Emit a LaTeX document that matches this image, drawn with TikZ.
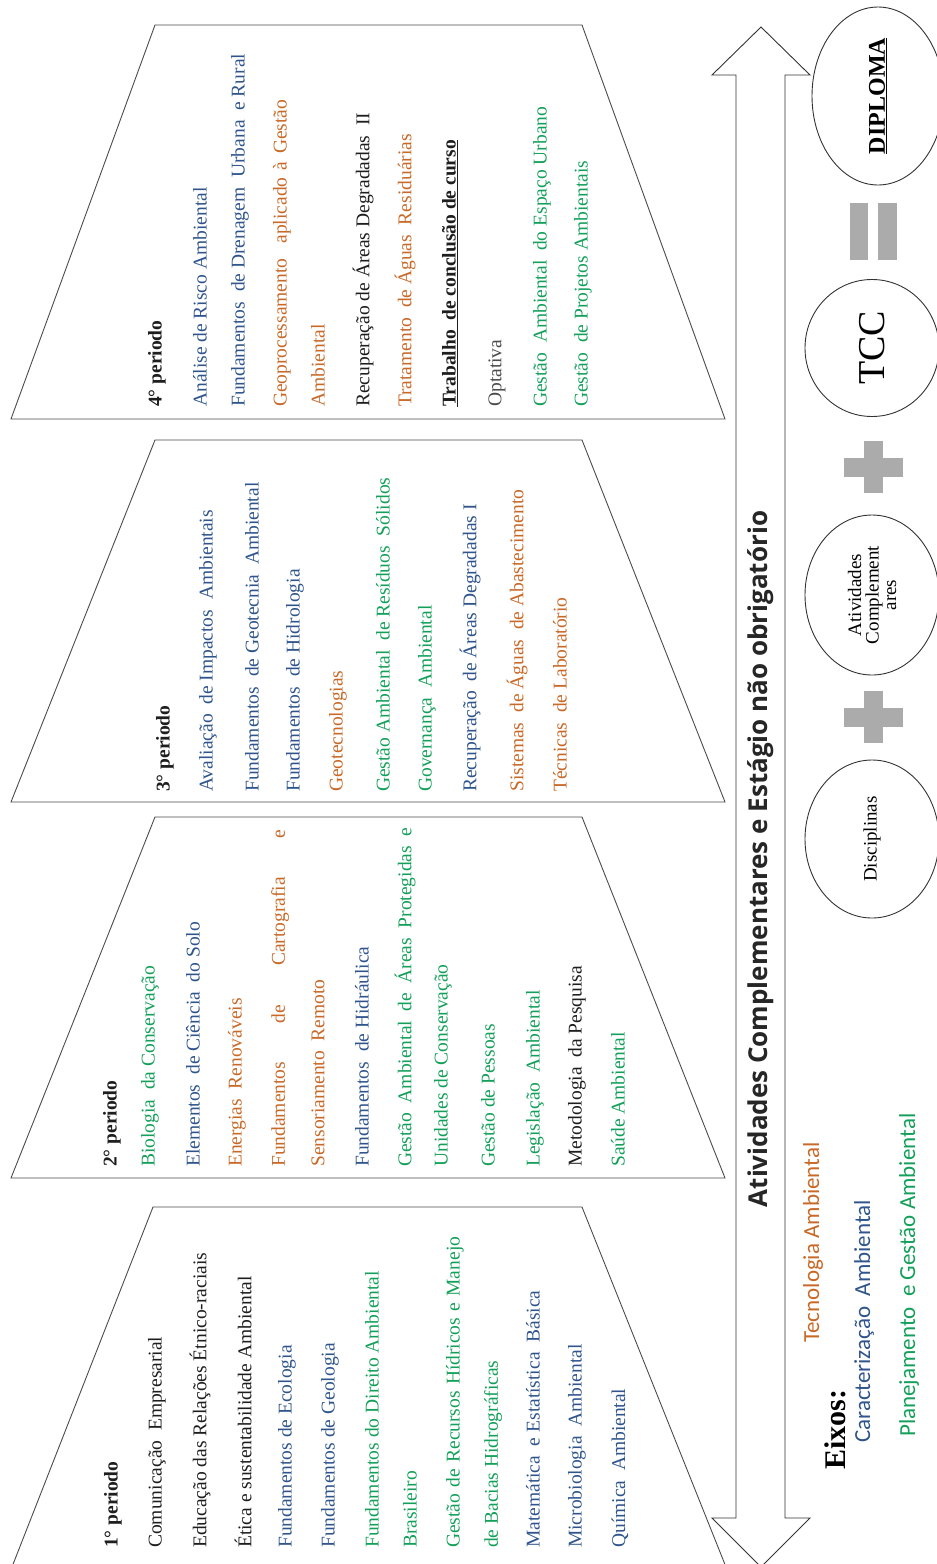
\documentclass[tikz,border=0pt]{standalone}
\usepackage{fontspec}
\setmainfont{Liberation Serif}
\newfontfamily\titlefont{Open Sans}
\newfontfamily\legfont{Carlito}
\usetikzlibrary{shapes.geometric}
\definecolor{cgreen}{RGB}{20,160,90}
\definecolor{cblue}{RGB}{47,85,140}
\definecolor{corange}{RGB}{200,105,40}
\definecolor{cdark}{RGB}{30,30,30}
\begin{document}
\begin{tikzpicture}[x=1pt,y=-1pt,
  tx/.style={rotate=90,anchor=west,inner sep=0pt,text=cdark,font=\fontsize{19.5}{22}\selectfont},
  hdr/.style={tx,font=\fontsize{19.5}{22}\selectfont\bfseries},
  frame/.style={draw=black!70,line width=0.9pt},
  circ/.style={draw=black!80,line width=0.9pt,ellipse,rotate=90,inner sep=0pt,align=center},
  gbar/.style={fill=black!33,draw=none},
  leg/.style={tx,font=\legfont\fontsize{23}{25}\selectfont}]
\useasboundingbox (0,0) rectangle (937,1564);
\fill[white] (0,0) rectangle (937,1564);

% period frames
\draw[frame] (10,1572) -- (153,1207) -- (582,1207) -- (728,1572);
\draw[frame] (11,1178) -- (155,817) -- (582,817) -- (725,1178) -- cycle;
\draw[frame] (11,802) -- (155,440) -- (582,440) -- (725,802) -- cycle;
\draw[frame] (11,419) -- (155,25) -- (582,25) -- (725,419) -- cycle;

% period 1
\node[hdr] (h1) at (113,1548) {1° periodo};
\node[tx] (a1) at (157,1548) {Comunicação\ \ Empresarial};
\node[tx] (a2) at (200,1548) {Educação das Relações Étnico-raciais};
\node[tx] (a3) at (243,1548) {Ética e sustentabilidade Ambiental};
\node[tx,text=cblue] (a4) at (287,1548) {Fundamentos de Ecologia};
\node[tx,text=cblue] (a5) at (330,1548) {Fundamentos de Geologia};
\node[tx,text=cgreen] (a6) at (372,1548) {Fundamentos do Direito Ambiental};
\node[tx,text=cgreen] (a7) at (410,1548) {Brasileiro};
\node[tx,text=cgreen] (a8) at (455,1548) {\makebox[311pt][s]{Gestão de Recursos Hídricos e Manejo}};
\node[tx,text=cgreen] (a9) at (493,1548) {de Bacias Hidrográficas};
\node[tx,text=cblue] (a10) at (533,1548) {Matemática\ \ e Estatística\ \ Básica};
\node[tx,text=cblue] (a11) at (577,1548) {Microbiologia\ \ Ambiental};
\node[tx,text=cblue] (a12) at (620,1548) {Química\ \ Ambiental};

% period 2
\node[hdr] (h2) at (112,1167) {2° periodo};
\node[tx,text=cgreen] (b1) at (150,1167) {Biologia\ \ da Conservação};
\node[tx,text=cblue] (b2) at (193,1167) {Elementos\ \ de Ciência\ \ do Solo};
\node[tx,text=corange] (b3) at (237,1167) {Energias\ \ Renováveis};
\node[tx,text=corange] (b4) at (280,1167) {\makebox[337pt][s]{Fundamentos de Cartografia e}};
\node[tx,text=corange] (b5) at (318,1167) {Sensoriamento\ \ Remoto};
\node[tx,text=cblue] (b6) at (362,1167) {Fundamentos\ \ de Hidráulica};
\node[tx,text=cgreen] (b7) at (405,1167) {\makebox[339pt][s]{Gestão Ambiental de Áreas Protegidas e}};
\node[tx,text=cgreen] (b8) at (443,1167) {Unidades de Conservação};
\node[tx,text=cgreen] (b9) at (488,1167) {Gestão de Pessoas};
\node[tx,text=cgreen] (b10) at (535,1167) {Legislação\ \ Ambiental};
\node[tx] (b11) at (577,1167) {Metodologia\ \ da Pesquisa};
\node[tx,text=cgreen] (b12) at (618,1167) {Saúde Ambiental};

% period 3
\node[hdr] (h3) at (165,792) {3° periodo};
\node[tx,text=cblue] (c1) at (208,792) {Avaliação\ \ de Impactos\ \ Ambientais};
\node[tx,text=cblue] (c2) at (252,792) {Fundamentos\ \ de Geotecnia\ \ Ambiental};
\node[tx,text=cblue] (c3) at (295,792) {Fundamentos\ \ de Hidrologia};
\node[tx,text=corange] (c4) at (338,792) {Geotecnologias};
\node[tx,text=cgreen] (c5) at (383,792) {Gestão Ambiental\ \ de Resíduos\ \ Sólidos};
\node[tx,text=cgreen] (c6) at (427,792) {Governança\ \ Ambiental};
\node[tx,text=cblue] (c7) at (470,792) {Recuperação\ \ de Áreas\ Degradadas\ I};
\node[tx,text=corange] (c8) at (517,792) {Sistemas\ \ de Águas\ \ de Abastecimento};
\node[tx,text=corange] (c9) at (560,792) {Técnicas\ \ de Laboratório};

% period 4
\node[hdr] (h4) at (157,407) {4° periodo};
\node[tx,text=cblue] (d1) at (200,407) {Análise de Risco Ambiental};
\node[tx,text=cblue] (d2) at (240,407) {Fundamentos\ \ de Drenagem\ \ Urbana\ \ e Rural};
\node[tx,text=corange] (d3) at (282,407) {\makebox[307pt][s]{Geoprocessamento\ \ aplicado à Gestão}};
\node[tx,text=corange] (d4) at (318,407) {Ambiental};
\node[tx] (d5) at (363,407) {Recuperação de Áreas Degradadas\ \ II};
\node[tx,text=corange] (d6) at (405,407) {Tratamento\ \ de Águas\ \ Residuárias};
\node[tx,font=\fontsize{19.5}{22}\selectfont\bfseries] (d7) at (450,407) {\underline{Trabalho\ \ de conclusão\ de curso}};
\node[tx,text=black!70] (d8) at (497,407) {Optativa};
\node[tx,text=cgreen] (d9) at (542,407) {Gestão\ \ Ambiental\ \ do Espaço Urbano};
\node[tx,text=cgreen] (d10) at (583,407) {Gestão\ \ de Projetos Ambientais};

% double arrow
\draw[frame,draw=black!80,fill=white] (761,27) -- (810,75) -- (785,75) -- (785,1518) -- (810,1518) -- (761,1567) -- (712,1518) -- (736,1518) -- (736,75) -- (712,75) -- cycle;
\node[rotate=90,inner sep=0pt,text=black!85,font=\titlefont\bfseries\fontsize{26}{28}\selectfont] (title) at (761,859) {Atividades Complementares e Estágio não obrigatório};

% result row
\node[circ,minimum width=178,minimum height=132,font=\fontsize{24}{26}\selectfont\bfseries] (dip) at (878,96) {\underline{DIPLOMA}};
\node[circ,minimum width=137,minimum height=134,font=\fontsize{38}{40}\selectfont] (tcc) at (872,348) {TCC};
\node[circ,minimum width=160,minimum height=134,font=\fontsize{19}{17.5}\selectfont] (ativ) at (872,595) {Atividades\\Complement\\ares};
\node[circ,minimum width=158,minimum height=134,font=\fontsize{19}{21}\selectfont] (disc) at (872,839) {Disciplinas};
\fill[gbar] (850,203) rectangle (868,260);
\fill[gbar] (878,203) rectangle (897,260);
\fill[gbar] (844,457.5) rectangle (903,476.5);
\fill[gbar] (864,441) rectangle (883,493);
\fill[gbar] (844,707.5) rectangle (903,726.5);
\fill[gbar] (864,691) rectangle (883,743);

% legend
\node[tx,text=black,font=\fontsize{30}{32}\selectfont\bfseries] (eixos) at (835,1470) {Eixos:};
\node[leg,text=corange] (leg1) at (813,1343) {Tecnologia Ambiental};
\node[leg,text=cblue] (leg2) at (864,1443) {Caracterização\ \ Ambiental};
\node[leg,text=cgreen] (leg3) at (909,1437) {Planejamento\ \ e Gestão Ambiental};
\end{tikzpicture}
\end{document}
